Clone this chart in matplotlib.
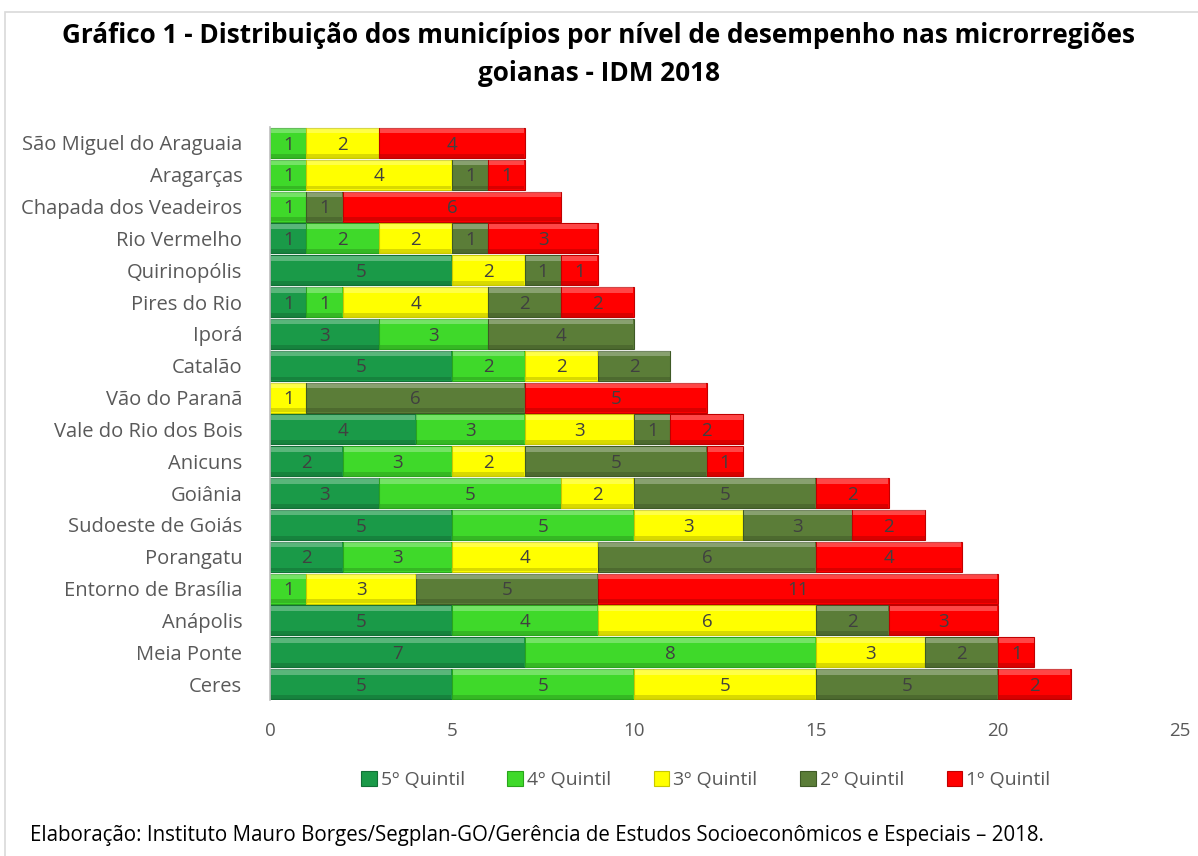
import numpy as np
import matplotlib
matplotlib.use("Agg")
import matplotlib.pyplot as plt
from matplotlib.patches import Rectangle

plt.rcParams['font.family'] = ['Open Sans', 'DejaVu Sans']

# -----------------------------
# DATA
# -----------------------------
regions = [
    "São Miguel do Araguaia", "Aragarças", "Chapada dos Veadeiros", "Rio Vermelho",
    "Quirinopólis", "Pires do Rio", "Iporá", "Catalão", "Vão do Paranã",
    "Vale do Rio dos Bois", "Anicuns", "Goiânia", "Sudoeste de Goiás",
    "Porangatu", "Entorno de Brasília", "Anápolis", "Meia Ponte", "Ceres",
]
q5 = [0, 0, 0, 1, 5, 1, 3, 5, 0, 4, 2, 3, 5, 2, 0, 5, 7, 5]
q4 = [1, 1, 1, 2, 0, 1, 3, 2, 0, 3, 3, 5, 5, 3, 1, 4, 8, 5]
q3 = [2, 4, 0, 2, 2, 4, 0, 2, 1, 3, 2, 2, 3, 4, 3, 6, 3, 5]
q2 = [0, 1, 1, 1, 1, 2, 4, 2, 6, 1, 5, 5, 3, 6, 5, 2, 2, 5]
q1 = [4, 1, 6, 3, 1, 2, 0, 0, 5, 2, 1, 2, 2, 4, 11, 3, 1, 2]

series_names = ["5º Quintil", "4º Quintil", "3º Quintil", "2º Quintil", "1º Quintil"]
series_colors = ["#1a9a48", "#3fd92a", "#ffff00", "#5b7d38", "#ff0000"]
edge_colors = ["#127036", "#2aa41c", "#c8c800", "#3f5a26", "#c00000"]

TEXT = "#404040"

# -----------------------------
# FIGURE
# -----------------------------
fig = plt.figure(figsize=(11.98, 8.56), dpi=100)
ax = fig.add_axes([0.2254, 0.1822, 0.7596, 0.6694])

# outer chart border
fig.patches.append(Rectangle((0.004, -0.01), 1.2, 0.996, transform=fig.transFigure,
                             fill=False, edgecolor="#d9d9d9", linewidth=1.2))

y = np.arange(len(regions))
left = np.zeros(len(regions))
bar_h = 0.94
handles = []
for vals, name, col, ec in zip([q5, q4, q3, q2, q1], series_names, series_colors, edge_colors):
    vals = np.array(vals, dtype=float)
    mask = vals > 0
    h = ax.barh(y[mask], vals[mask], left=left[mask], height=bar_h, color=col,
                edgecolor=ec, linewidth=0.8, label=name, zorder=2)
    # bevel: light strip on top, dark strip at bottom
    ax.barh(y[mask] - bar_h / 2 + 0.09, vals[mask] - 0.04, left=left[mask] + 0.02,
            height=0.16, color="white", alpha=0.28, linewidth=0, zorder=3)
    ax.barh(y[mask] + bar_h / 2 - 0.07, vals[mask] - 0.04, left=left[mask] + 0.02,
            height=0.12, color="black", alpha=0.15, linewidth=0, zorder=3)
    for yi, v, l in zip(y[mask], vals[mask], left[mask]):
        ax.text(l + v / 2, yi + 0.05, f"{int(v)}", ha="center", va="center",
                fontsize=13.5, color=TEXT, zorder=4)
    handles.append(h)
    left = left + vals

ax.set_ylim(len(regions) - 0.5, -0.5)
ax.set_xlim(0, 25)
ax.set_xticks(np.arange(0, 26, 5))
ax.set_yticks(y)
ax.set_yticklabels(regions, fontsize=14.5, color="#595959")
ax.tick_params(axis="x", labelsize=13.5, labelcolor="#595959", length=0, pad=16)
ax.tick_params(axis="y", length=0, pad=20)
for s in ["top", "right", "bottom"]:
    ax.spines[s].set_visible(False)
ax.spines["left"].set_color("#bfbfbf")
ax.spines["left"].set_linewidth(1.2)

fig.text(0.5, 0.958, "Gráfico 1 - Distribuição dos municípios por nível de desempenho nas microrregiões",
         ha="center", va="center", fontsize=18.8, fontweight="bold", color="black")
fig.text(0.5, 0.914, "goianas - IDM 2018",
         ha="center", va="center", fontsize=18.8, fontweight="bold", color="black")

fig.legend(handles=handles, labels=series_names, loc="center", bbox_to_anchor=(0.589, 0.089),
           ncol=5, frameon=False, fontsize=14, labelcolor="#595959",
           handlelength=0.8, handleheight=0.8, handletextpad=0.2, columnspacing=2.2)

fig.text(0.025, 0.024, "Elaboração: Instituto Mauro Borges/Segplan-GO/Gerência de Estudos Socioeconômicos e Especiais – 2018.",
         ha="left", va="center", fontsize=14.8, color="black")

fig.savefig("out.png", dpi=100)
